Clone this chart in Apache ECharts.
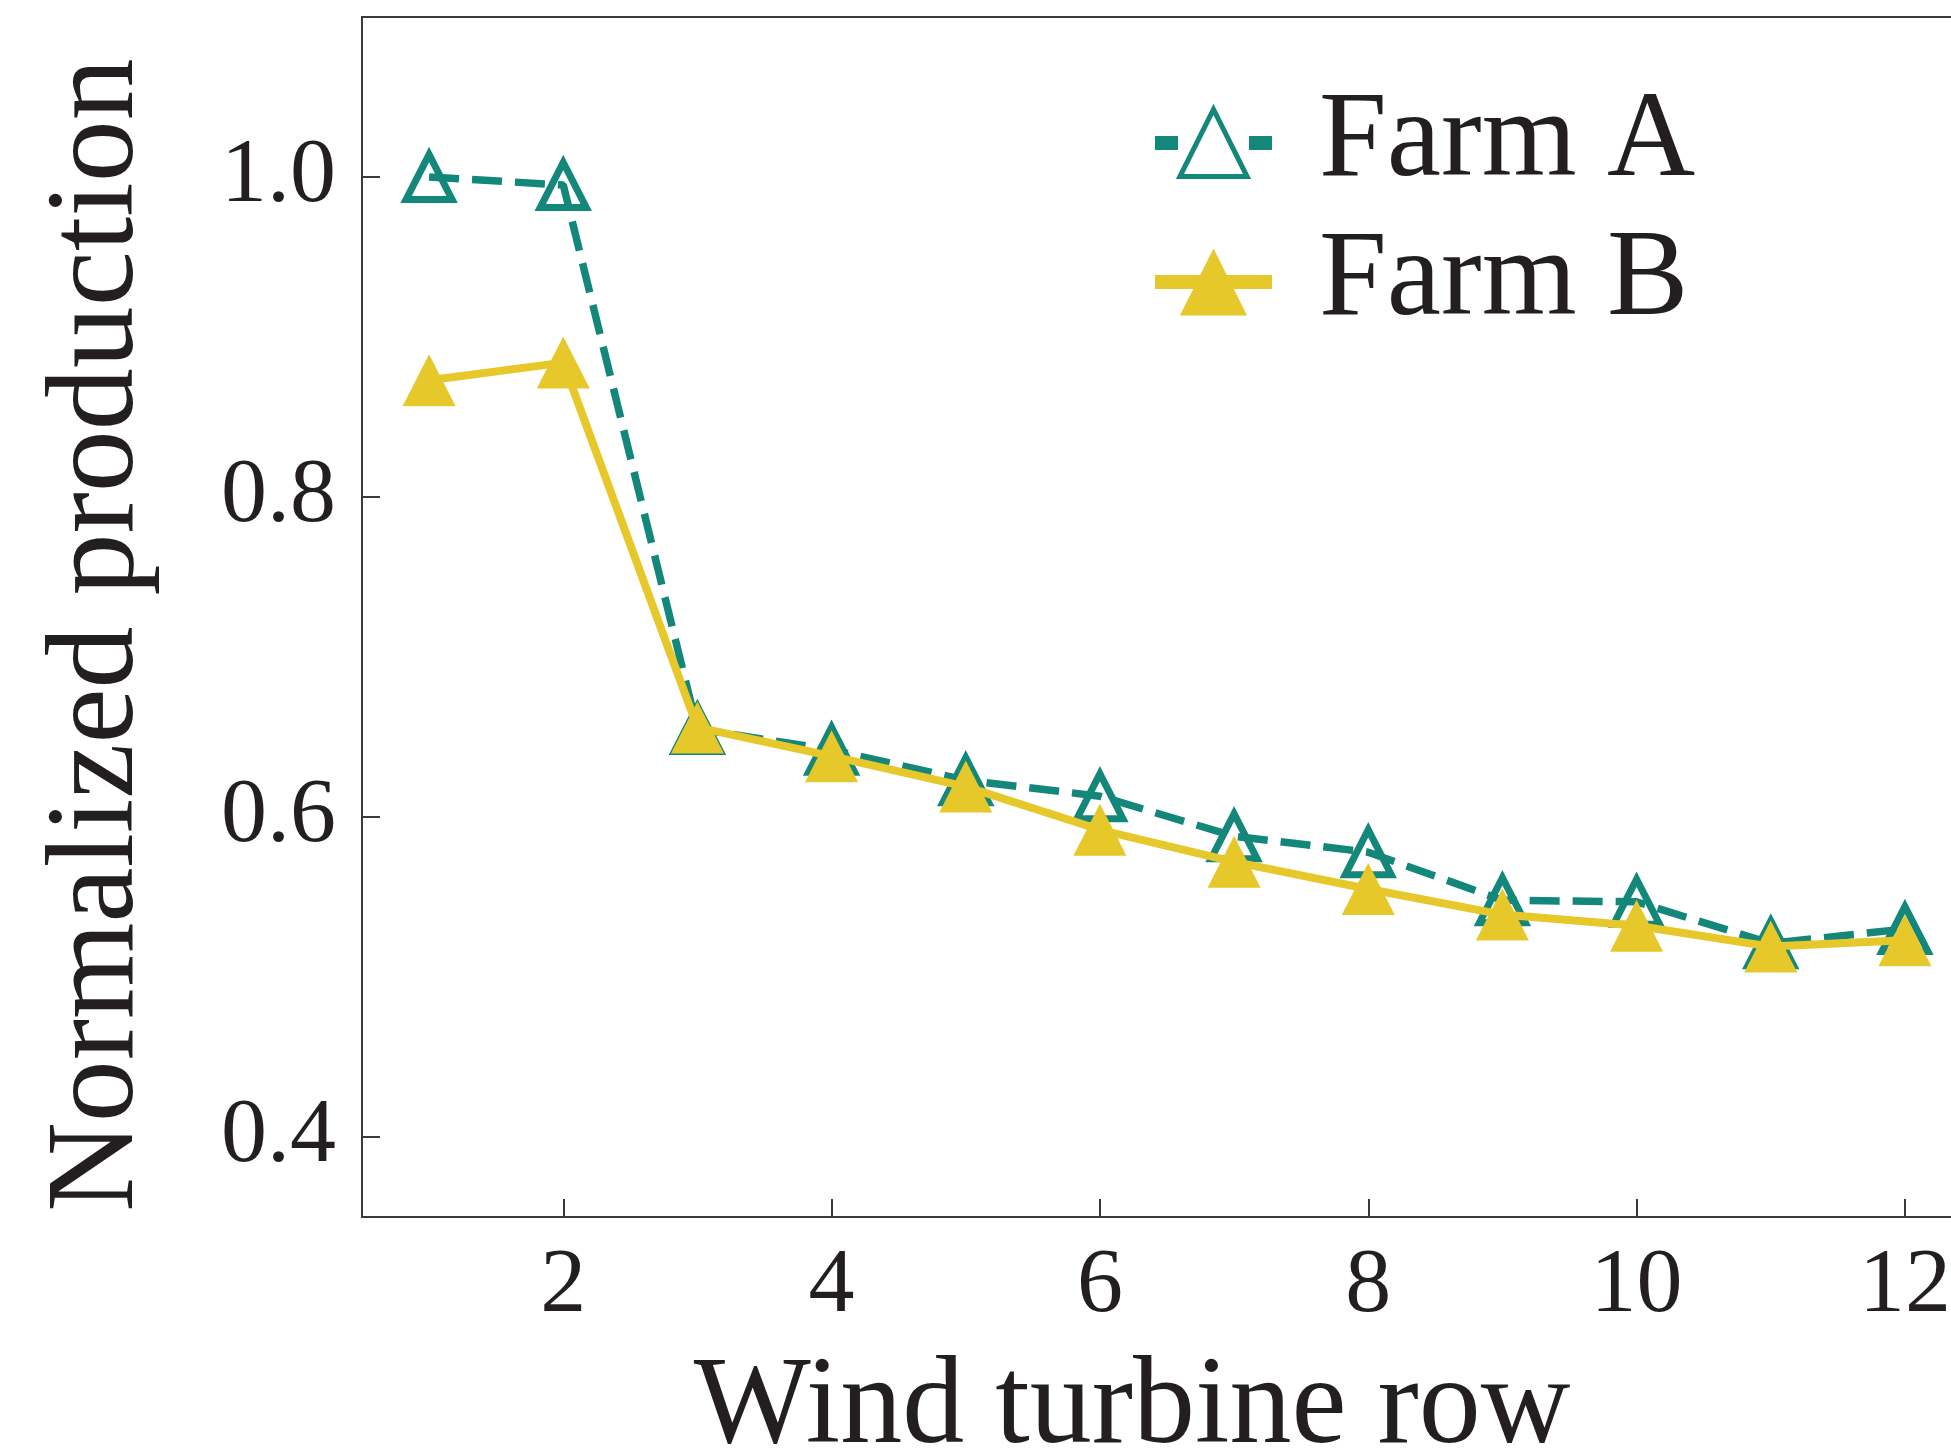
<!DOCTYPE html>
<html><head><meta charset="utf-8">
<script src="https://cdn.jsdelivr.net/npm/echarts@6/dist/echarts.min.js"></script>
<style>html,body{margin:0;padding:0;background:#fff;} #c{width:1951px;height:1452px;}</style>
</head><body><div id="c"></div>
<script>
const rows = [1, 2, 3, 4, 5, 6, 7, 8, 9, 10, 11, 12];
const farmA = [1.000, 0.995, 0.655, 0.642, 0.623, 0.613, 0.588, 0.578, 0.548, 0.547, 0.521, 0.530];
const farmB = [0.873, 0.884, 0.656, 0.638, 0.619, 0.592, 0.572, 0.555, 0.539, 0.532, 0.519, 0.523];
const xTicks = [2, 4, 6, 8, 10, 12];
const yTicks = [0.4, 0.6, 0.8, 1.0];
const seriesNames = ['Farm A', 'Farm B'];
const xTitle = 'Wind turbine row';
const yTitle = 'Normalized production';

const TEAL = '#13877a';
const YELLOW = '#e6c82a';
const INK = '#231f20';
const AXIS = '#3a3a3a';
const FONT = "'Liberation Serif', 'Times New Roman', serif";

const legendBase = {
  orient: 'vertical',
  left: 1148,
  padding: 0,
  itemWidth: 117, itemHeight: 84, itemGap: 0,
  textStyle: {fontFamily: FONT, fontSize: 122, color: INK, padding: [0, 0, 0, 42]}
};

const chart = echarts.init(document.getElementById('c'), null, {renderer: 'canvas'});
const option = {
  animation: false,
  backgroundColor: '#ffffff',
  grid: {
    left: 362, top: 17, right: -21, bottom: 235,
    containLabel: false,
    outerBoundsMode: 'none',
    show: true, borderColor: AXIS, borderWidth: 2, backgroundColor: 'transparent'
  },
  legend: [
    Object.assign({}, legendBase, {
      top: 82,
      data: [{name: seriesNames[0], itemStyle: {color: '#ffffff', borderColor: TEAL, borderWidth: 5},
              lineStyle: {width: 14, type: [23, 71], color: TEAL}}]
    }),
    Object.assign({}, legendBase, {
      top: 221,
      data: [{name: seriesNames[1], lineStyle: {width: 14, color: YELLOW}}]
    })
  ],
  xAxis: {
    type: 'value', min: 0.5, max: 12.5,
    name: xTitle, nameLocation: 'middle', nameGap: 130,
    nameTextStyle: {fontFamily: FONT, fontSize: 124, color: INK, padding: [0, 70, 0, 0]},
    axisLine: {show: true, onZero: false, lineStyle: {color: AXIS, width: 2}},
    axisTick: {show: true, inside: true, length: 18, lineStyle: {color: AXIS, width: 2}, customValues: xTicks},
    axisLabel: {fontFamily: FONT, fontSize: 92, color: INK, margin: 24, customValues: xTicks,
      formatter: v => String(v)},
    splitLine: {show: false}
  },
  yAxis: {
    type: 'value', min: 0.35, max: 1.1,
    name: yTitle, nameLocation: 'middle', nameGap: 201, nameRotate: 90,
    nameTextStyle: {fontFamily: FONT, fontSize: 124, color: INK, padding: [0, 36, 0, 0]},
    axisLine: {show: true, onZero: false, lineStyle: {color: AXIS, width: 2}},
    axisTick: {show: true, inside: true, length: 18, lineStyle: {color: AXIS, width: 2}, customValues: yTicks},
    axisLabel: {fontFamily: FONT, fontSize: 92, color: INK, margin: 26, customValues: yTicks,
      formatter: v => Number(v).toFixed(1)},
    splitLine: {show: false}
  },
  series: [
    {
      name: seriesNames[0], type: 'line',
      data: rows.map((x, i) => [x, farmA[i]]),
      symbol: 'triangle', symbolSize: [46, 45],
      itemStyle: {color: 'transparent', borderColor: TEAL, borderWidth: 7},
      lineStyle: {color: TEAL, width: 7.5, type: [30, 13]},
      z: 2
    },
    {
      name: seriesNames[1], type: 'line',
      data: rows.map((x, i) => [x, farmB[i]]),
      symbol: 'triangle', symbolSize: [53, 52],
      itemStyle: {color: YELLOW, borderWidth: 0},
      lineStyle: {color: YELLOW, width: 8, type: 'solid'},
      z: 3
    }
  ]
};
chart.setOption(option);
</script>
</body></html>
